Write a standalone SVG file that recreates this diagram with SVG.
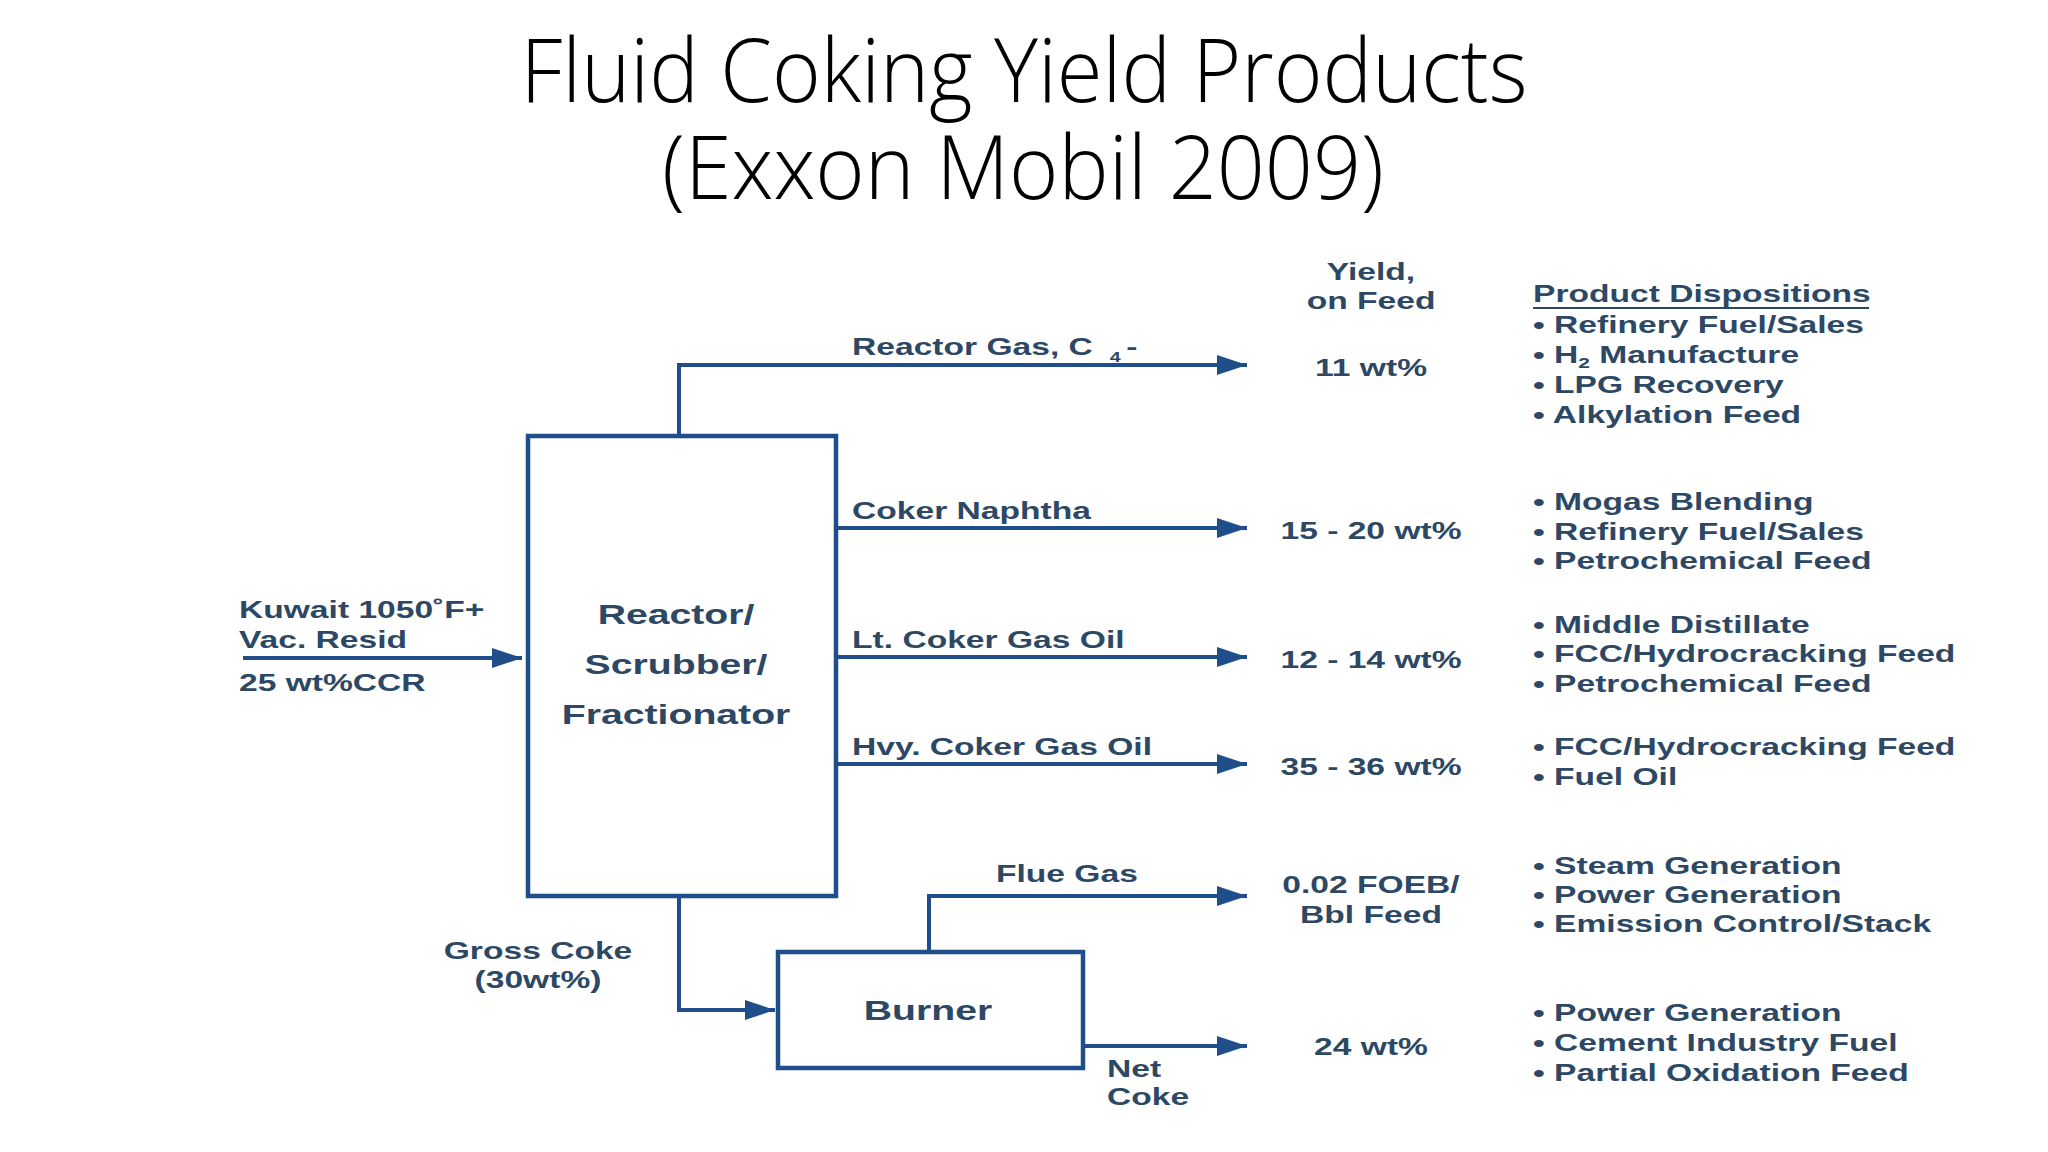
<svg xmlns="http://www.w3.org/2000/svg" width="2048" height="1152" viewBox="0 0 2048 1152">
  <defs>
    <marker id="arr" markerUnits="userSpaceOnUse" markerWidth="30" markerHeight="20" refX="30" refY="10" orient="auto">
      <path d="M0,0 L30,10 L0,20 Z" fill="#1f4e8a"/>
    </marker>
    <style>
      .title { font-family: "Open Sans", "Lato", sans-serif; font-weight: 300; font-size: 88px; fill: #000; text-anchor: middle; }
      .t { font-family: "Liberation Sans", Arial, sans-serif; font-weight: bold; font-size: 24px; fill: #2d4864; }
      .big { font-size: 28px; }
      .c { text-anchor: middle; }
      .box { fill: none; stroke: #1f4e8a; stroke-width: 4.5; }
      .ln { fill: none; stroke: #1f4e8a; stroke-width: 4; }
      .arw { marker-end: url(#arr); }
    </style>
  </defs>
  <rect x="0" y="0" width="2048" height="1152" fill="#ffffff"/>

  <g id="title">
    <text class="title"><tspan x="1024" y="102" textLength="1007" lengthAdjust="spacingAndGlyphs">Fluid Coking Yield Products</tspan><tspan x="1023" y="199" textLength="722" lengthAdjust="spacingAndGlyphs">(Exxon Mobil 2009)</tspan></text>
  </g>

  <g id="connectors">
    <line class="ln arw" x1="243" y1="658" x2="522" y2="658"/>
    <polyline class="ln arw" points="679,436 679,365 1247,365"/>
    <line class="ln arw" x1="836" y1="528" x2="1247" y2="528"/>
    <line class="ln arw" x1="836" y1="657" x2="1247" y2="657"/>
    <line class="ln arw" x1="836" y1="764" x2="1247" y2="764"/>
    <polyline class="ln arw" points="679,896 679,1010 775,1010"/>
    <polyline class="ln arw" points="929,952 929,896 1247,896"/>
    <line class="ln arw" x1="1083" y1="1046" x2="1247" y2="1046"/>
  </g>

  <g id="reactor">
    <rect class="box" x="528" y="436" width="308" height="460"/>
  </g>
  <g id="burner">
    <rect class="box" x="778" y="952" width="305" height="116"/>
  </g>

  <g id="labels" transform="scale(1.40 1)">
    <g id="reactor-text">
      <text class="t big c" x="482.9" y="624">Reactor/</text>
      <text class="t big c" x="482.9" y="674">Scrubber/</text>
      <text class="t big c" x="482.9" y="724">Fractionator</text>
    </g>
    <g id="burner-text">
      <text class="t big c" x="662.9" y="1020">Burner</text>
    </g>
    <g id="feed">
      <text class="t" x="170.7" y="618">Kuwait 1050˚F+</text>
      <text class="t" x="170.7" y="648">Vac. Resid</text>
      <text class="t" x="170.7" y="691">25 wt%CCR</text>
    </g>
    <g id="stream-labels">
      <text class="t" x="608.6" y="355">Reactor Gas, C<tspan dx="12" dy="7" font-size="14">4</tspan><tspan dx="4" dy="-7">-</tspan></text>
      <text class="t" x="608.6" y="519">Coker Naphtha</text>
      <text class="t" x="608.6" y="648">Lt. Coker Gas Oil</text>
      <text class="t" x="608.6" y="755">Hvy. Coker Gas Oil</text>
      <text class="t c" x="384.3" y="959">Gross Coke</text>
      <text class="t c" x="384.3" y="988">(30wt%)</text>
      <text class="t c" x="762.1" y="882">Flue Gas</text>
      <text class="t" x="790.7" y="1077">Net</text>
      <text class="t" x="790.7" y="1105">Coke</text>
    </g>
    <g id="yields">
      <text class="t c" x="979.3" y="280">Yield,</text>
      <text class="t c" x="979.3" y="309">on Feed</text>
      <text class="t c" x="979.3" y="376">11 wt%</text>
      <text class="t c" x="979.3" y="539">15 - 20 wt%</text>
      <text class="t c" x="979.3" y="668">12 - 14 wt%</text>
      <text class="t c" x="979.3" y="775">35 - 36 wt%</text>
      <text class="t c" x="979.3" y="893">0.02 FOEB/</text>
      <text class="t c" x="979.3" y="923">Bbl Feed</text>
      <text class="t c" x="979.3" y="1055">24 wt%</text>
    </g>
    <g id="dispositions">
      <text class="t" x="1095" y="302">Product Dispositions</text>
      <text class="t" x="1095" y="333">• Refinery Fuel/Sales</text>
      <text class="t" x="1095" y="363">• H<tspan font-size="15" dy="5">2</tspan><tspan dy="-5"> Manufacture</tspan></text>
      <text class="t" x="1095" y="393">• LPG Recovery</text>
      <text class="t" x="1095" y="423">• Alkylation Feed</text>

      <text class="t" x="1095" y="510">• Mogas Blending</text>
      <text class="t" x="1095" y="540">• Refinery Fuel/Sales</text>
      <text class="t" x="1095" y="569">• Petrochemical Feed</text>

      <text class="t" x="1095" y="633">• Middle Distillate</text>
      <text class="t" x="1095" y="662">• FCC/Hydrocracking Feed</text>
      <text class="t" x="1095" y="692">• Petrochemical Feed</text>

      <text class="t" x="1095" y="755">• FCC/Hydrocracking Feed</text>
      <text class="t" x="1095" y="785">• Fuel Oil</text>

      <text class="t" x="1095" y="874">• Steam Generation</text>
      <text class="t" x="1095" y="903">• Power Generation</text>
      <text class="t" x="1095" y="932">• Emission Control/Stack</text>

      <text class="t" x="1095" y="1021">• Power Generation</text>
      <text class="t" x="1095" y="1051">• Cement Industry Fuel</text>
      <text class="t" x="1095" y="1081">• Partial Oxidation Feed</text>
    </g>
  </g>
  <line id="underline" x1="1533" y1="308" x2="1869" y2="308" stroke="#2d4864" stroke-width="2"/>
</svg>
